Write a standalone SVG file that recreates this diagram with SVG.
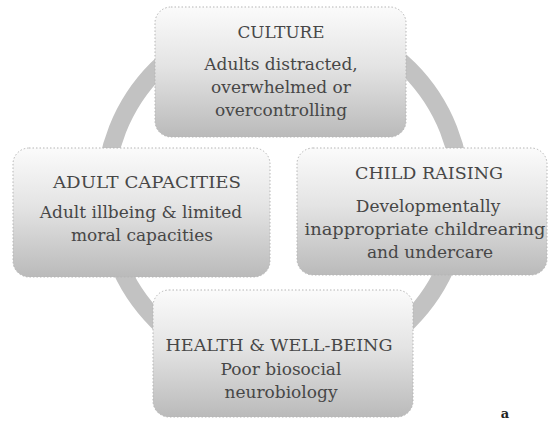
<svg xmlns="http://www.w3.org/2000/svg" width="548" height="421" viewBox="0 0 548 421">
<defs>
<linearGradient id="boxfill" x1="0" y1="0" x2="0" y2="1">
<stop offset="0" stop-color="#fbfbfb"/>
<stop offset="0.45" stop-color="#e4e4e4"/>
<stop offset="1" stop-color="#bababa"/>
</linearGradient>
<style>
.box{fill:url(#boxfill);stroke:#b5b5b5;stroke-width:1;stroke-dasharray:1.5 2}
.t{font-family:"DejaVu Serif","Liberation Serif",serif;font-size:17px;fill:#474747;text-anchor:middle}
.b{font-family:"DejaVu Serif","Liberation Serif",serif;font-size:17px;fill:#474747;text-anchor:middle}
.ring{fill:none;stroke:#c2c2c2;stroke-width:18}
</style>
</defs>
<rect width="548" height="421" fill="#ffffff"/>
<g id="connectors">
<circle class="ring" cx="283" cy="195" r="178"/>
</g>
<g id="culture">
<rect class="box" x="155" y="7" width="251" height="130" rx="16"/>
<text class="t" x="281" y="38" textLength="87" lengthAdjust="spacingAndGlyphs">CULTURE</text>
<text class="b" x="281" y="70">Adults distracted,</text>
<text class="b" x="281" y="93">overwhelmed or</text>
<text class="b" x="281" y="116">overcontrolling</text>
</g>
<g id="adult-capacities">
<rect class="box" x="13" y="148" width="257" height="129" rx="16"/>
<text class="t" x="147" y="188" textLength="188" lengthAdjust="spacingAndGlyphs">ADULT CAPACITIES</text>
<text class="b" x="141" y="218">Adult illbeing &amp; limited</text>
<text class="b" x="142" y="241">moral capacities</text>
</g>
<g id="child-raising">
<rect class="box" x="297" y="148" width="250" height="127" rx="16"/>
<text class="t" x="429" y="179" textLength="148" lengthAdjust="spacingAndGlyphs">CHILD RAISING</text>
<text class="b" x="428" y="212">Developmentally</text>
<text class="b" x="425" y="235" textLength="241" lengthAdjust="spacingAndGlyphs">inappropriate childrearing</text>
<text class="b" x="430" y="258">and undercare</text>
</g>
<g id="health-well-being">
<rect class="box" x="153" y="290" width="260" height="127" rx="16"/>
<text class="t" x="279" y="351" textLength="227" lengthAdjust="spacingAndGlyphs">HEALTH &amp; WELL-BEING</text>
<text class="b" x="281" y="375">Poor biosocial</text>
<text class="b" x="281" y="398">neurobiology</text>
</g>
<text x="505" y="418" font-family="DejaVu Serif, serif" font-size="13" font-weight="bold" fill="#222" text-anchor="middle">a</text>
</svg>
